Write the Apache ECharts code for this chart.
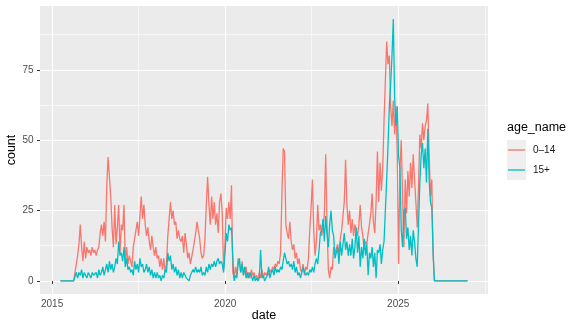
<!DOCTYPE html>
<html>
<head>
<meta charset="utf-8">
<script src="https://cdn.jsdelivr.net/npm/echarts@6/dist/echarts.min.js"></script>
<style>
  html, body { margin: 0; padding: 0; background: #ffffff; }
  #chart { width: 578px; height: 330px; }
</style>
</head>
<body>
<div id="chart"></div>
<script>
// Fortnightly case counts by age group, first observation 2015-03-29.
const FIRST_DAY = Date.UTC(2015, 2, 29);
const STEP_DAYS = 14;

// Ages 0–14, one row per year (April to March)
const count0to14 = [
  0,0,0,0,0,0,0,0,0,0,0,0,6,9,13,20,12,7,14,8,12,10,11,9,12,10,
  11,9,11,12,17,20,16,21,14,34,44,37,30,19,12,27,13,19,27,10,20,18,27,6,12,6,
  9,7,5,12,15,18,21,16,23,30,22,27,20,16,19,14,11,16,12,9,12,8,9,5,8,4,
  8,3,6,16,22,28,22,25,20,21,15,18,15,14,16,10,17,13,8,10,6,6,11,14,17,21,
  18,15,10,8,9,15,27,37,27,20,30,22,28,20,24,17,28,31,24,4,12,26,22,28,22,34,
  3,1,5,2,8,6,3,7,2,4,5,1,3,1,4,2,3,1,2,0,3,1,4,1,3,2,
  3,2,4,3,5,4,6,5,7,6,10,30,47,46,20,17,15,21,14,11,13,8,10,6,8,4,
  3,6,2,5,4,8,18,26,36,18,9,14,27,18,20,16,19,24,45,20,4,1,5,4,12,10,
  10,13,9,15,18,23,28,43,27,20,25,17,22,16,20,18,16,20,27,19,16,11,14,13,17,20,
  24,31,21,17,28,46,28,42,32,40,57,71,85,77,80,62,55,64,52,62,45,6,40,50,30,12,
  36,24,39,30,42,33,45,36,28,19,34,52,47,56,50,55,57,63,45,30,36,9,0,0,0,0,
  0,0,0,0,0,0,0,0,0,0,0,0,0,0,0,0,0,0,0,0,0,0
];

// Ages 15+
const count15plus = [
  0,0,0,0,0,0,0,0,0,0,0,0,3,1,3,2,4,1,3,2,1,3,2,1,3,2,
  2,3,1,4,2,3,5,2,4,6,3,7,4,6,3,5,8,6,14,9,10,7,12,5,8,4,
  5,3,4,2,7,4,6,3,8,5,6,3,4,6,3,5,2,4,1,3,1,3,1,2,0,2,
  1,4,3,10,7,9,4,6,3,5,2,4,1,3,1,3,2,1,1,0,2,3,4,3,5,3,
  4,3,5,2,3,2,5,3,6,4,6,5,7,5,7,8,6,7,6,3,9,17,14,20,18,19,
  8,0,2,1,6,8,3,6,2,5,1,3,1,3,2,0,2,0,1,0,1,11,1,2,0,1,
  2,5,1,3,4,2,5,3,4,3,5,4,7,10,8,6,7,5,6,4,7,3,5,2,3,1,
  1,5,3,2,3,2,4,3,5,3,6,8,6,11,17,18,22,14,23,17,12,20,25,18,16,8,
  8,12,6,14,9,13,17,11,14,9,13,9,15,8,12,19,10,16,5,12,8,15,9,13,2,10,
  8,12,5,10,1,11,10,13,6,11,14,25,36,48,62,70,80,93,65,55,62,44,40,18,12,25,
  26,15,19,11,16,9,18,14,8,5,20,35,45,49,40,47,35,54,36,28,26,10,0,0,0,0,
  0,0,0,0,0,0,0,0,0,0,0,0,0,0,0,0,0,0,0,0,0,0
];

const groupNames = ['0–14', '15+'];
const groupColors = ['#F8766D', '#00BFC4'];

const yearTicks = [2015, 2020, 2025];
const minorYearTicks = [2017.5, 2022.5, 2027.5];
const countTicks = [0, 25, 50, 75];
const minorCountTicks = [12.5, 37.5, 62.5, 87.5];

// Convert a timestamp to a fractional calendar year
function toDecimalYear(ms) {
  const y = new Date(ms).getUTCFullYear();
  const start = Date.UTC(y, 0, 1);
  const end = Date.UTC(y + 1, 0, 1);
  return y + (ms - start) / (end - start);
}

function toPairs(values) {
  return values.map((v, i) => [toDecimalYear(FIRST_DAY + i * STEP_DAYS * 86400000), v]);
}

// Axis ranges padded 5% beyond the data on each side
function padded(lo, hi) {
  const pad = (hi - lo) * 0.05;
  return [lo - pad, hi + pad];
}
const xFirst = toDecimalYear(FIRST_DAY);
const xLast = toDecimalYear(FIRST_DAY + (count0to14.length - 1) * STEP_DAYS * 86400000);
const [X_MIN, X_MAX] = padded(xFirst, xLast);
const [Y_MIN, Y_MAX] = padded(0, Math.max(...count0to14, ...count15plus));

const FONT = '"Liberation Sans", Arial, Helvetica, sans-serif';
const chart = echarts.init(document.getElementById('chart'), null, { renderer: 'canvas' });

const majorGrid = { show: true, lineStyle: { color: '#FFFFFF', width: 1.1 } };
const minorGrid = { show: true, lineStyle: { color: '#FFFFFF', width: 0.55 } };

chart.setOption({
  animation: false,
  textStyle: { fontFamily: FONT },
  grid: {
    left: 40, right: 90, top: 6, bottom: 36,
    show: true, backgroundColor: '#EBEBEB', borderWidth: 0,
    containLabel: false,
    outerBoundsMode: 'none'
  },
  xAxis: [
    {
      type: 'value', min: X_MIN, max: X_MAX,
      axisLine: { show: false },
      axisTick: { show: true, customValues: yearTicks, length: 3, lineStyle: { color: '#333333', width: 1 } },
      axisLabel: { customValues: yearTicks, color: '#4D4D4D', fontSize: 10, margin: 5, fontFamily: FONT,
                   formatter: v => String(v) },
      splitLine: majorGrid
    },
    {
      type: 'value', min: X_MIN, max: X_MAX, position: 'bottom',
      axisLine: { show: false },
      axisTick: { show: false, customValues: minorYearTicks },
      axisLabel: { show: false, customValues: minorYearTicks },
      splitLine: minorGrid
    }
  ],
  yAxis: [
    {
      type: 'value', min: Y_MIN, max: Y_MAX,
      axisLine: { show: false },
      axisTick: { show: true, customValues: countTicks, length: 3, lineStyle: { color: '#333333', width: 1 } },
      axisLabel: { customValues: countTicks, color: '#4D4D4D', fontSize: 10, margin: 6.5, fontFamily: FONT,
                   formatter: v => String(v) },
      splitLine: majorGrid
    },
    {
      type: 'value', min: Y_MIN, max: Y_MAX, position: 'left',
      axisLine: { show: false },
      axisTick: { show: false, customValues: minorCountTicks },
      axisLabel: { show: false, customValues: minorCountTicks },
      splitLine: minorGrid
    }
  ],
  legend: {
    data: groupNames,
    orient: 'vertical',
    left: 508, top: 140,
    padding: 0, itemGap: 0,
    itemWidth: 17, itemHeight: 1.3,
    icon: 'rect',
    selectedMode: false,
    textStyle: { fontSize: 10, color: '#1A1A1A', lineHeight: 20, padding: [0, 0, 0, 3], fontFamily: FONT }
  },
  graphic: [
    // axis titles
    { type: 'text', x: 264, y: 316, silent: true,
      style: { text: 'date', fontSize: 12.5, fill: '#000000', fontFamily: FONT, align: 'center', verticalAlign: 'middle' } },
    { type: 'text', x: 12, y: 150, rotation: Math.PI / 2, silent: true,
      style: { text: 'count', fontSize: 12.5, fill: '#000000', fontFamily: FONT, align: 'center', verticalAlign: 'middle' } },
    // legend title and key background
    { type: 'rect', left: 507, top: 140, z: -1, silent: true,
      shape: { width: 19, height: 40 }, style: { fill: '#EFEFEF' } },
    { type: 'text', left: 507, top: 121, silent: true,
      style: { text: 'age_name', fontSize: 12.5, fill: '#000000', fontFamily: FONT } }
  ],
  series: [
    {
      name: groupNames[0], type: 'line', data: toPairs(count0to14),
      xAxisIndex: 0, yAxisIndex: 0,
      showSymbol: false, symbol: 'none', color: groupColors[0],
      lineStyle: { width: 1.3, color: groupColors[0] },
      emphasis: { disabled: true }, silent: true
    },
    {
      name: groupNames[1], type: 'line', data: toPairs(count15plus),
      xAxisIndex: 0, yAxisIndex: 0,
      showSymbol: false, symbol: 'none', color: groupColors[1],
      lineStyle: { width: 1.3, color: groupColors[1] },
      emphasis: { disabled: true }, silent: true
    }
  ]
});
</script>
</body>
</html>
